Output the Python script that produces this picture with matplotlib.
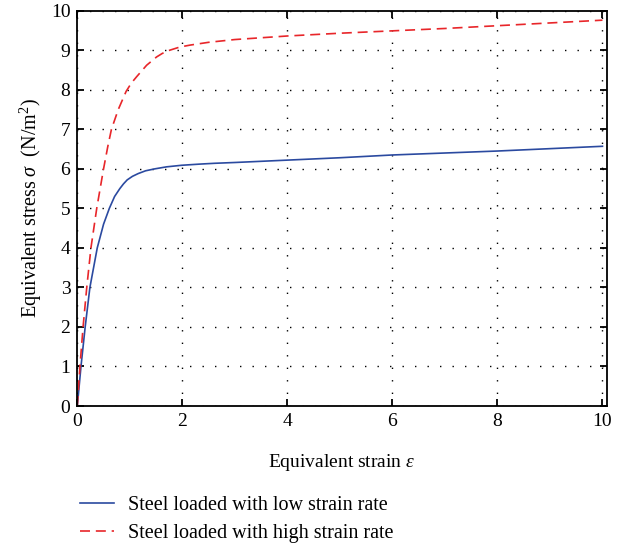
import matplotlib
matplotlib.use("Agg")
import matplotlib.pyplot as plt

plt.rcParams["font.family"] = ["Liberation Serif", "DejaVu Serif"]
plt.rcParams["mathtext.fontset"] = "custom"
plt.rcParams["mathtext.rm"] = "Liberation Serif"
plt.rcParams["mathtext.it"] = "Liberation Serif:italic"

# Stress-strain curves
low_strain = [0, 0.035, 0.07, 0.15, 0.24, 0.38, 0.5, 0.61, 0.71, 0.81, 0.88, 0.95, 1.05,
              1.16, 1.3, 1.48, 1.7, 1.99, 2.34, 2.62, 3.0, 4.0, 5.0, 6.0, 7.0, 8.0, 9.0, 10.0]
low_stress = [0, 0.5, 1.0, 2.0, 3.0, 4.0, 4.6, 5.0, 5.3, 5.5, 5.62, 5.72, 5.81,
              5.88, 5.95, 6.0, 6.05, 6.09, 6.12, 6.14, 6.16, 6.22, 6.28, 6.35, 6.40, 6.45, 6.51, 6.57]

high_strain = [0, 0.05, 0.11, 0.18, 0.26, 0.37, 0.5, 0.58, 0.65, 0.78, 0.93, 1.03, 1.13,
               1.32, 1.51, 1.62, 1.76, 1.95, 2.15, 2.5, 3.0, 4.0, 5.0, 6.0, 7.0, 8.0, 9.0, 10.0]
high_stress = [0, 1.0, 2.0, 3.0, 4.0, 5.0, 6.0, 6.56, 7.0, 7.5, 7.96, 8.17, 8.33,
               8.62, 8.83, 8.92, 9.0, 9.08, 9.13, 9.2, 9.27, 9.36, 9.43, 9.49, 9.55, 9.62, 9.69, 9.76]

x_ticks = [0, 2, 4, 6, 8, 10]
y_ticks = [0, 1, 2, 3, 4, 5, 6, 7, 8, 9, 10]

fig = plt.figure(figsize=(6.29, 5.48), dpi=100)
ax = fig.add_axes([0.1229, 0.2591, 0.8416, 0.7214])

ax.plot(low_strain, low_stress, color="#2b4aa0", lw=1.2,
        label="Steel loaded with low strain rate")
ax.plot(high_strain, high_stress, color="#e8262a", lw=1.2, linestyle=(0, (6, 3.5)),
        label="Steel loaded with high strain rate")

ax.set_xlim(0, 10.08)
ax.set_ylim(0, 10)
ax.set_xticks(x_ticks)
ax.set_yticks(y_ticks)
ax.tick_params(direction="in", top=True, right=True, length=5, width=1.3,
               labelsize=14, pad=5)
for s in ax.spines.values():
    s.set_linewidth(1.3)
ax.grid(True, color="black", linestyle=(0, (1, 8)), lw=1.0)

ax.set_xlabel(r"Equivalent strain $\varepsilon$", fontsize=14, labelpad=16)
ax.set_ylabel(r"Equivalent stress $\sigma$  (N/m$^2$)", fontsize=14.5, labelpad=5)

fig.legend(loc="upper left", bbox_to_anchor=(0.098, 0.128), frameon=False,
           fontsize=14.5, handlelength=1.7, handletextpad=0.7, labelspacing=0.45)

fig.savefig("out.png", dpi=100)
